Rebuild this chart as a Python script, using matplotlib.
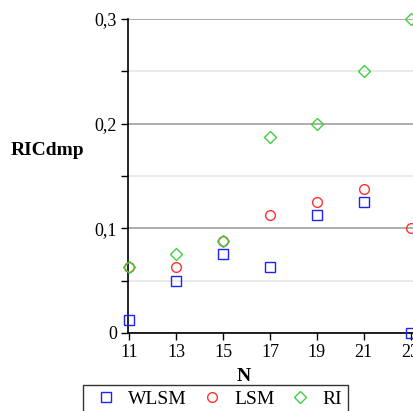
import matplotlib.pyplot as plt
from matplotlib.ticker import FuncFormatter, MultipleLocator

N = [11, 13, 15, 17, 19, 21, 23]
wlsm = [0.0125, 0.05, 0.075, 0.0625, 0.1125, 0.125, 0.0]
lsm = [0.0625, 0.0625, 0.0875, 0.1125, 0.125, 0.1375, 0.1]
ri = [0.0625, 0.075, 0.0875, 0.1875, 0.2, 0.25, 0.3]

plt.rcParams['font.family'] = ['Liberation Serif', 'DejaVu Serif']

fig = plt.figure(figsize=(4.13, 4.11), dpi=100)
ax = fig.add_axes([0.31, 0.19, 0.69, 0.764])

ax.set_xlim(10.95, 23.1)
ax.set_ylim(0, 0.3)

# grid lines: darker at major steps, pale at the half steps
ax.yaxis.set_major_locator(MultipleLocator(0.1))
ax.yaxis.set_minor_locator(MultipleLocator(0.05))
ax.grid(axis='y', which='major', color='#a0a0a0', linewidth=1.2)
ax.grid(axis='y', which='minor', color='#e6e6e6', linewidth=1.2)
ax.set_axisbelow(True)

ms = 7
ax.plot(N, wlsm, linestyle='none', marker='s', markersize=ms, markerfacecolor='none',
        markeredgecolor='#2020ff', markeredgewidth=1, label='WLSM', clip_on=False, zorder=3)
ax.plot(N, lsm, linestyle='none', marker='o', markersize=ms, markerfacecolor='none',
        markeredgecolor='#ff3030', markeredgewidth=1, label='LSM', clip_on=False, zorder=3)
ax.plot(N, ri, linestyle='none', marker='D', markersize=ms - 0.5, markerfacecolor='none',
        markeredgecolor='#40d040', markeredgewidth=1, label='RI', clip_on=False, zorder=3)

ax.set_xticks(N)
ax.yaxis.set_major_formatter(FuncFormatter(
    lambda v, p: '0' if abs(v) < 1e-9 else ('%.1f' % v).replace('.', ',')))

for s in ['top', 'right']:
    ax.spines[s].set_visible(False)
ax.spines['left'].set_linewidth(1.2)
ax.spines['bottom'].set_linewidth(1.2)
ax.tick_params(axis='both', which='major', direction='out', length=5, width=1,
               labelsize=13, pad=3)
ax.tick_params(axis='y', which='minor', direction='out', length=5, width=1)

fig.text(0.025, 0.635, 'RICdmp', fontsize=14, fontweight='bold', ha='left', va='center')
fig.text(0.59, 0.083, 'N', fontsize=14, fontweight='bold', ha='center', va='center')

leg = fig.legend(loc='upper left', bbox_to_anchor=(0.2, 0.064), ncol=3,
                 frameon=True, fancybox=False, edgecolor='black', fontsize=14,
                 handletextpad=0.25, columnspacing=0.4, borderpad=0.3,
                 handlelength=1.8, borderaxespad=0)
leg.get_frame().set_linewidth(1)

fig.savefig('out.png', dpi=100)
